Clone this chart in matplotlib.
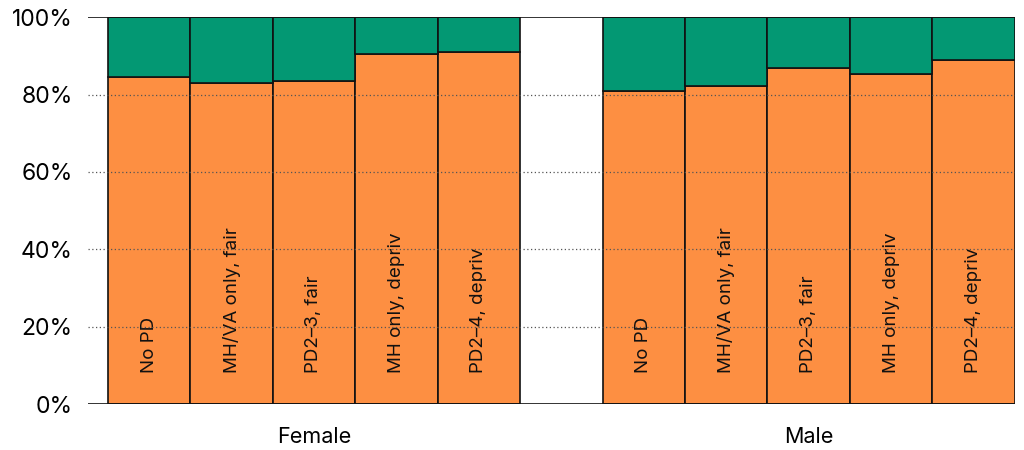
import matplotlib
import matplotlib.pyplot as plt
import numpy as np

matplotlib.use("Agg")

groups = ["Female", "Male"]
categories = ["No PD", "MH/VA only, fair", "PD2\u20133, fair", "MH only, depriv", "PD2\u20134, depriv"]
female_share = [84.5, 83.1, 83.4, 90.4, 90.9]
male_share = [81.0, 82.3, 86.8, 85.3, 89.0]

ORANGE = "#FD8F42"
GREEN = "#039873"

plt.rcParams["font.family"] = ["Inter", "DejaVu Sans"]


def main():
    fig = plt.figure(figsize=(10.24, 4.5), dpi=100)
    ax = fig.add_axes([0.086, 0.102, 0.905, 0.86])

    n = len(categories)
    pos_f = np.arange(n)
    pos_m = np.arange(n) + n + 1
    for pos, vals in [(pos_f, female_share), (pos_m, male_share)]:
        vals = np.array(vals)
        ax.bar(pos, vals, width=1.0, color=ORANGE, edgecolor="#111111", linewidth=1.2, zorder=2)
        ax.bar(pos, 100 - vals, bottom=vals, width=1.0, color=GREEN,
               edgecolor="#111111", linewidth=1.2, zorder=2)
        for x, lab in zip(pos, categories):
            ax.text(x, 8, lab, rotation=90, ha="center", va="bottom",
                    fontsize=13.5, color="#111111", zorder=3)

    # gridlines: dotted in the middle, solid at 0 and 100
    for y in [20, 40, 60, 80]:
        ax.axhline(y, color="#555555", linestyle=(0, (1, 2)), linewidth=0.9, zorder=3)
    ax.axhline(0, color="#111111", linewidth=1.2, zorder=3)
    ax.axhline(100, color="#111111", linewidth=1.2, zorder=3)

    ax.set_xlim(-0.74, 2 * n + 0.5)
    ax.set_ylim(0, 100)
    ax.set_yticks([0, 20, 40, 60, 80, 100])
    ax.set_yticklabels([f"{v}%" for v in [0, 20, 40, 60, 80, 100]], fontsize=16.5)
    ax.tick_params(axis="y", length=0, pad=11)
    ax.set_xticks([])
    for s in ax.spines.values():
        s.set_visible(False)

    ax.text(pos_f.mean(), -6, groups[0], ha="center", va="top", fontsize=15.5)
    ax.text(pos_m.mean(), -6, groups[1], ha="center", va="top", fontsize=15.5)

    fig.savefig("out.png", dpi=100)
    plt.close(fig)


if __name__ == "__main__":
    main()
